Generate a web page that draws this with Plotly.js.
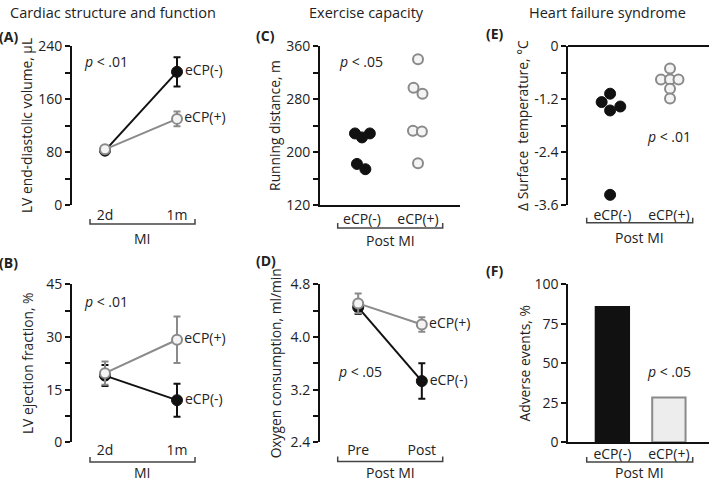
<!DOCTYPE html>
<html>
<head>
<meta charset="utf-8">
<script src="https://cdn.plot.ly/plotly-3.0.1.min.js"></script>
<style>html,body{margin:0;padding:0;background:#fff;}#chart{width:709px;height:482px;}</style>
</head>
<body>
<div id="chart"></div>
<script>
// ---------- data ----------
const timeA = [0, 1];
const timeLabelsA = ['2d', '1m'];
const edvNeg = [82, 201];
const edvNegErr = [3, 22];
const edvPos = [84, 130];
const edvPosErr = [4, 11];

const efNeg = [19, 12];
const efNegErr = [3, 4.7];
const efPos = [19.7, 29.2];
const efPosErr = [3.3, 6.6];

const groupLabels = ['eCP(-)', 'eCP(+)'];
const runNeg = [228, 228, 222, 182, 174];
const runNegJitter = [-0.125, 0.14, 0, -0.09, 0.06];
const runPos = [340, 297, 288, 232, 231, 183];
const runPosJitter = [0, -0.08, 0.08, -0.09, 0.07, 0];

const timeD = [0, 1];
const timeLabelsD = ['Pre', 'Post'];
const vo2Neg = [4.45, 3.33];
const vo2NegErr = [0.1, 0.27];
const vo2Pos = [4.51, 4.19];
const vo2PosErr = [0.15, 0.11];

const tempNeg = [-1.08, -1.27, -1.37, -1.46, -3.37];
const tempNegJitter = [-0.04, -0.19, 0.14, -0.04, -0.04];
const tempPos = [-0.51, -0.76, -0.76, -0.76, -0.97, -1.19];
const tempPosJitter = [0.02, -0.14, 0.02, 0.17, 0.02, 0.02];

const adverse = [85.7, 28.3];

const yTicksA = [0, 40, 80, 120, 160, 200, 240];
const yTextA = ['0', '', '80', '', '160', '', '240'];
const yTicksB = [0, 7.5, 15, 22.5, 30, 37.5, 45];
const yTextB = ['0', '', '15', '', '30', '', '45'];
const yTicksC = [120, 160, 200, 240, 280, 320, 360];
const yTextC = ['120', '', '200', '', '280', '', '360'];
const yTicksD = [2.4, 2.8, 3.2, 3.6, 4.0, 4.4, 4.8];
const yTextD = ['2.4', '', '3.2', '', '4.0', '', '4.8'];
const yTicksE = [-3.6, -3.0, -2.4, -1.8, -1.2, -0.6, 0];
const yTextE = ['-3.6', '', '-2.4', '', '-1.2', '', '0'];
const yTicksF = [0, 25, 50, 75, 100];
const yTextF = ['0', '25', '50', '75', '100'];

// ---------- styling ----------
const FONT = 'Open Sans, sans-serif';
const BLACK = '#111';
const GRAY = '#8a8a8a';
const TXT = '#222';

const negMarker = {color: BLACK, size: 11, line: {color: BLACK, width: 1}};
const posMarker = {color: '#f4f4f4', size: 10, line: {color: GRAY, width: 2}};

function err(arr, c) { return {type: 'data', array: arr, visible: true, color: c, thickness: 2, width: 3.5}; }

function lineTrace(x, y, e, color, marker, label, xa, ya) {
  return {
    x: x, y: y, xaxis: xa, yaxis: ya, type: 'scatter', mode: 'lines+markers+text',
    line: {color: color, width: 2}, marker: marker, error_y: err(e, color),
    text: y.map((v, i) => i === y.length - 1 ? label : ''),
    textposition: 'middle right', textfont: {family: FONT, size: 14, color: TXT},
    cliponaxis: false, showlegend: false, hoverinfo: 'x+y'
  };
}
function dotTrace(cat, jitter, y, marker, xa, ya) {
  return {
    x: jitter.map(j => cat + j), y: y, xaxis: xa, yaxis: ya, type: 'scatter', mode: 'markers',
    marker: marker, showlegend: false, cliponaxis: false
  };
}

const traces = [
  lineTrace(timeA, edvNeg, edvNegErr, BLACK, negMarker, 'eCP(-)', 'x', 'y'),
  lineTrace(timeA, edvPos, edvPosErr, GRAY, posMarker, 'eCP(+)', 'x', 'y'),
  lineTrace(timeA, efNeg, efNegErr, BLACK, negMarker, 'eCP(-)', 'x2', 'y2'),
  lineTrace(timeA, efPos, efPosErr, GRAY, posMarker, 'eCP(+)', 'x2', 'y2'),
  dotTrace(0, runNegJitter, runNeg, negMarker, 'x3', 'y3'),
  dotTrace(1, runPosJitter, runPos, posMarker, 'x3', 'y3'),
  lineTrace(timeD, vo2Neg, vo2NegErr, BLACK, negMarker, 'eCP(-)', 'x4', 'y4'),
  lineTrace(timeD, vo2Pos, vo2PosErr, GRAY, posMarker, 'eCP(+)', 'x4', 'y4'),
  dotTrace(0, tempNegJitter, tempNeg, negMarker, 'x5', 'y5'),
  dotTrace(1, tempPosJitter, tempPos, posMarker, 'x5', 'y5'),
  {
    x: [0, 1], y: adverse, xaxis: 'x6', yaxis: 'y6', type: 'bar', width: 0.59,
    marker: {color: [BLACK, '#ededed'], line: {color: [BLACK, GRAY], width: 2}},
    showlegend: false
  }
];

function yax(domain, range, tv, tt, anchor, title, extra) {
  return Object.assign({
    domain: domain, range: range, anchor: anchor, tickvals: tv, ticktext: tt,
    showline: true, linecolor: BLACK, linewidth: 2, ticks: 'outside', ticklen: 5,
    tickwidth: 2, tickcolor: BLACK, showgrid: false, zeroline: false,
    tickfont: {family: FONT, size: 14, color: TXT},
    title: {text: title, font: {family: FONT, size: 13.8, color: TXT}}
  }, extra || {});
}
function xax(domain, range, labels, anchor, showline, standoff) {
  return {
    domain: domain, range: range, anchor: anchor, tickvals: [0, 1], ticktext: labels,
    showline: showline, linecolor: BLACK, linewidth: 2, ticks: '', showgrid: false,
    zeroline: false, tickfont: {family: FONT, size: 14, color: TXT},
    ticklabelstandoff: standoff || 0
  };
}

const px = v => v / 709, py = v => 1 - v / 482;
const topY = [py(205), py(46)];
const botY = [py(442.3), py(284.3)];
const colA = [px(72), px(210)];
const colC = [px(320), px(460)];
const colE = [px(568.3), 1];

function ann(text, x, y, opts) {
  return Object.assign({text: text, x: x, y: y, xref: 'paper', yref: 'paper', showarrow: false,
    font: {family: FONT, size: 14, color: TXT}, xanchor: 'center', yanchor: 'middle'}, opts || {});
}
function bracket(x0, x1, y) {
  const h = 5 / 482;
  return {type: 'path', xref: 'paper', yref: 'paper',
    path: `M ${x0},${y + h} L ${x0},${y} L ${x1},${y} L ${x1},${y + h}`,
    line: {color: '#444', width: 1.5}};
}
const panelFont = {font: {family: FONT, size: 14, color: TXT}, xanchor: 'left', xshift: -3};
const headFont = {font: {family: FONT, size: 14.5, color: TXT}};

const layout = {
  width: 709, height: 482, margin: {l: 0, r: 0, t: 0, b: 0},
  paper_bgcolor: '#fff', plot_bgcolor: 'rgba(0,0,0,0)', showlegend: false,
  font: {family: FONT, color: TXT},
  xaxis: xax(colA, [-0.458, 1.458], timeLabelsA, 'y', false),
  yaxis: yax(topY, [0, 240], yTicksA, yTextA, 'x', 'LV end-diastolic volume, µL'),
  xaxis2: xax(colA, [-0.458, 1.458], timeLabelsA, 'y2', false, -2),
  yaxis2: yax(botY, [0, 45], yTicksB, yTextB, 'x2', 'LV ejection fraction, %'),
  xaxis3: xax(colC, [-0.75, 1.75], groupLabels, 'y3', true),
  yaxis3: yax(topY, [120, 360], yTicksC, yTextC, 'x3', 'Running distance, m'),
  xaxis4: xax(colC, [-0.6, 1.6], timeLabelsD, 'y4', false, -2),
  yaxis4: yax(botY, [2.4, 4.8], yTicksD, yTextD, 'x4', 'Oxygen consumption, ml/min'),
  xaxis5: xax(colE, [-0.78, 1.71], groupLabels, 'y5', false),
  yaxis5: yax(topY, [-3.6, 0], yTicksE, yTextE, 'x5', '∆ Surface  temperature, °C',
    {zeroline: true, zerolinecolor: BLACK, zerolinewidth: 2}),
  xaxis6: xax(colE, [-0.78, 1.71], groupLabels, 'y6', true, -2),
  yaxis6: yax(botY, [0, 100], yTicksF, yTextF, 'x6', 'Adverse events, %'),
  bargap: 0,
  shapes: [
    bracket(px(90), px(195), py(224)),
    bracket(px(90), px(195), py(462)),
    bracket(px(337.7), px(442.7), py(228)),
    bracket(px(337.7), px(442.7), py(461.5)),
    bracket(px(586.7), px(692.7), py(222.7)),
    bracket(px(586.7), px(692.7), py(462))
  ],
  annotations: [
    ann('Cardiac structure and function', px(113), py(12), headFont),
    ann('Exercise capacity', px(366), py(12), headFont),
    ann('Heart failure syndrome', px(607.5), py(12), headFont),
    ann('<b>(A)</b>', 0, py(36.7), panelFont),
    ann('<b>(B)</b>', 0, py(262), panelFont),
    ann('<b>(C)</b>', px(256.7), py(36), panelFont),
    ann('<b>(D)</b>', px(256.7), py(260), panelFont),
    ann('<b>(E)</b>', px(486.7), py(34), panelFont),
    ann('<b>(F)</b>', px(486.7), py(270), panelFont),
    ann('<i>p</i> < .01', px(106.5), py(61.7)),
    ann('<i>p</i> < .01', px(106.5), py(301.7)),
    ann('<i>p</i> < .05', px(360.5), py(61)),
    ann('<i>p</i> < .05', px(360.3), py(371.7)),
    ann('<i>p</i> < .01', px(669), py(136.7)),
    ann('<i>p</i> < .05', px(669), py(371.7)),
    ann('MI', px(142.5), py(238)),
    ann('MI', px(142.5), py(472)),
    ann('Post MI', px(390), py(240)),
    ann('Post MI', px(390), py(472)),
    ann('Post MI', px(639.7), py(237)),
    ann('Post MI', px(639.7), py(472))
  ]
};

Plotly.newPlot('chart', traces, layout, {displayModeBar: false, staticPlot: true});
</script>
</body>
</html>
